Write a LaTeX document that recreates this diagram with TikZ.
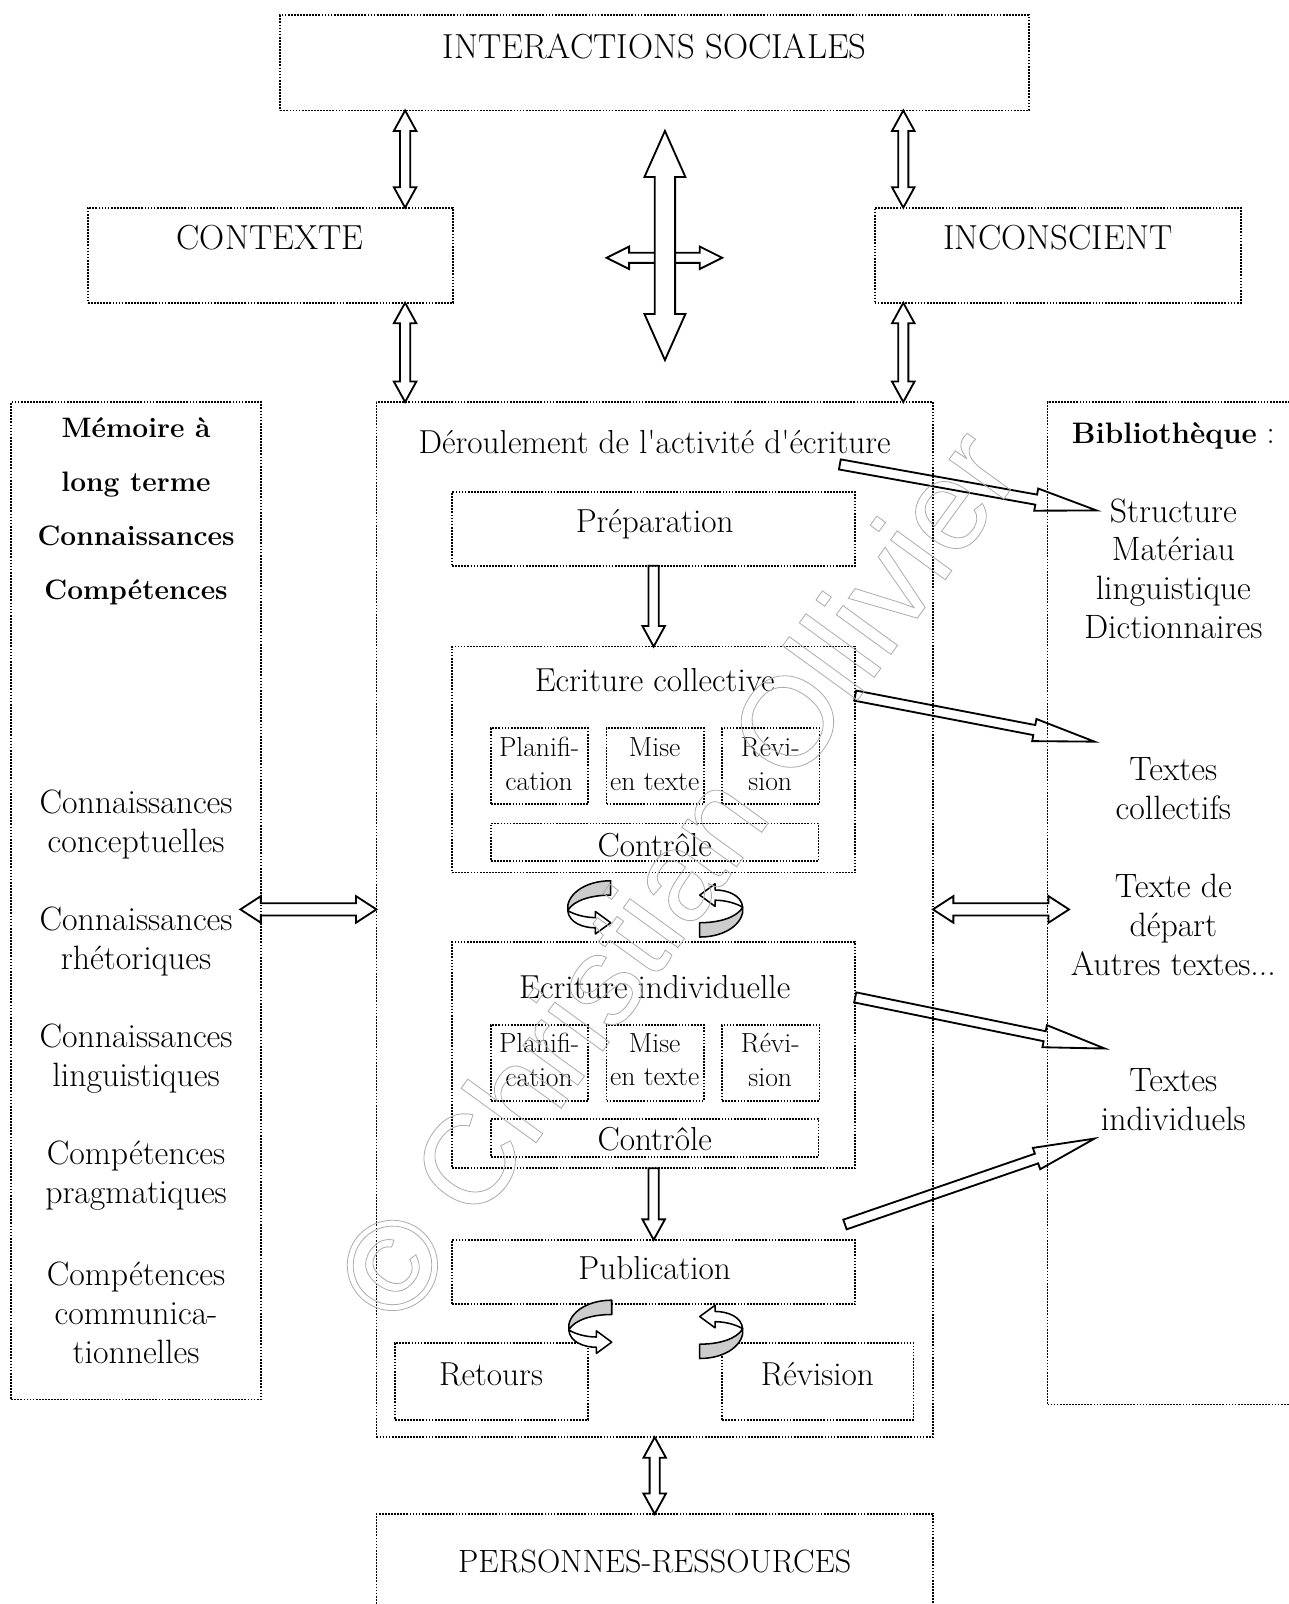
\documentclass[tikz,border=0pt]{standalone}
\usepackage{fontspec}
\newfontfamily\wmfont{Liberation Sans}
\usetikzlibrary{calc,fit}

\newcommand{\blkarrow}[6][]{%
    \path ($(#3)!#6!(#2)$) coordinate (hb);
    \draw[arrowline,#1] ($(#2)!#4!90:(#3)$) -- ($(hb)!#4!-90:(#2)$) -- ($(hb)!#5!-90:(#2)$) -- (#3) -- ($(hb)!#5!90:(#2)$) -- ($(hb)!#4!90:(#2)$) -- ($(#2)!#4!-90:(#3)$) -- cycle;
}
\newcommand{\blkdarrow}[6][]{%
    \path ($(#2)!#6!(#3)$) coordinate (ha);
    \path ($(#3)!#6!(#2)$) coordinate (hb);
    \draw[arrowline,#1] (#2) -- ($(ha)!#5!90:(#3)$) -- ($(ha)!#4!90:(#3)$) -- ($(hb)!#4!-90:(#2)$) -- ($(hb)!#5!-90:(#2)$) -- (#3) -- ($(hb)!#5!90:(#2)$) -- ($(hb)!#4!90:(#2)$) -- ($(ha)!#4!-90:(#3)$) -- ($(ha)!#5!-90:(#3)$) -- cycle;
}

\tikzset{
    boxline/.style={draw, line width=1.7pt, dash pattern=on 1.7pt off 1.3pt, inner sep=0pt, outer sep=0pt},
    titletext/.style={font=\fontsize{34}{40}\selectfont, inner sep=0pt},
    bodytext/.style={font=\fontsize{32.5}{38}\selectfont, align=center, inner sep=0pt},
    subtext/.style={font=\fontsize{27}{33}\selectfont, align=center, inner sep=0pt},
    boldtext/.style={font=\fontsize{27.5}{53}\selectfont\bfseries, align=center, inner sep=0pt},
    listtext/.style={font=\fontsize{33}{38}\selectfont, align=center, inner sep=0pt},
    arrowline/.style={line width=1.8pt, line join=miter},
    twist/.pic={
        \filldraw[fill=gray!40, line width=1.5pt, line join=round] (21,-27) -- (21,-13) .. controls (2,-13) and (-15,-8) .. (-21,2) .. controls (-23,-12) and (-6,-27) .. (21,-27) -- cycle;
        \filldraw[fill=white, line width=1.5pt, line join=round] (-21,2) .. controls (-20,14) and (-6,19) .. (6,19) -- (6,25) -- (21,14) -- (6,3) -- (6,9) .. controls (-4,9) and (-15,6) .. (-21,2) -- cycle;
    }
}

\begin{document}
\begin{tikzpicture}[x=1pt, y=-1pt]
            \useasboundingbox (0,0) rectangle (1260,1568);

            \node[boxline, fit={(274,15) (1006,108)}] (is) {};
            \node[boxline, fit={(86,203) (443,296)}] (ctx) {};
            \node[boxline, fit={(855,203) (1213,296)}] (inc) {};
            \node[boxline, fit={(11,393) (255,1368)}] (mem) {};
            \node[boxline, fit={(368,393) (912,1405)}] (act) {};
            \node[boxline, fit={(1024,393) (1266,1373)}] (bib) {};
            \node[boxline, fit={(442,481) (836,553)}] (prep) {};
            \node[boxline, fit={(442,632) (836,853)}] (ecol) {};
            \node[boxline, fit={(480,712) (575,786)}] (planc) {};
            \node[boxline, fit={(593,712) (688,786)}] (misec) {};
            \node[boxline, fit={(706,712) (801,786)}] (revc) {};
            \node[boxline, fit={(480,805) (800,842)}] (ctlc) {};
            \node[boxline, fit={(442,921) (836,1142)}] (eind) {};
            \node[boxline, fit={(480,1002) (575,1076)}] (plani) {};
            \node[boxline, fit={(593,1002) (688,1076)}] (misei) {};
            \node[boxline, fit={(706,1002) (801,1076)}] (revi) {};
            \node[boxline, fit={(480,1094) (800,1131)}] (ctli) {};
            \node[boxline, fit={(442,1212) (836,1275)}] (pub) {};
            \node[boxline, fit={(386,1313) (575,1388)}] (ret) {};
            \node[boxline, fit={(706,1313) (893,1388)}] (rev) {};
            \node[boxline, fit={(368,1480) (912,1575)}] (pers) {};

            \node[titletext, anchor=base] (istext) at (640,57) {INTERACTIONS SOCIALES};
            \node[titletext, anchor=base] (ctxtext) at (264,244) {CONTEXTE};
            \node[titletext, anchor=base] (inctext) at (1034,244) {INCONSCIENT};
            \node[titletext, anchor=base, font=\fontsize{31.5}{38}\selectfont] (perstext) at (640,1537) {PERSONNES-RESSOURCES};

            \node[bodytext, anchor=base] (actext) at (640,443) {Déroulement de l\textquotesingle activité d\textquotesingle écriture};
            \node[bodytext, anchor=base] (preptext) at (640,521) {Préparation};
            \node[bodytext, anchor=base] (ecoltext) at (640,676) {Ecriture collective};
            \node[subtext] (planctext) at (527,747) {Planifi-\\cation};
            \node[subtext] (misectext) at (640,747) {Mise\\en texte};
            \node[subtext] (revctext) at (753,747) {Révi-\\sion};
            \node[bodytext, anchor=base] (ctlctext) at (640,837) {Contrôle};
            \node[bodytext, anchor=base] (eindtext) at (640,976) {Ecriture individuelle};
            \node[subtext] (planitext) at (527,1036) {Planifi-\\cation};
            \node[subtext] (miseitext) at (640,1036) {Mise\\en texte};
            \node[subtext] (revitext) at (753,1036) {Révi-\\sion};
            \node[bodytext, anchor=base] (ctlitext) at (640,1125) {Contrôle};
            \node[bodytext, anchor=base] (pubtext) at (640,1251) {Publication};
            \node[bodytext, anchor=base] (rettext) at (480,1354) {Retours};
            \node[bodytext, anchor=base] (revtext) at (799,1354) {Révision};

            \node[boldtext] (memtext) at (133,500) {Mémoire à\\long terme\\Connaissances\\Compétences};
            \node[listtext] (conc) at (133,806) {Connaissances\\conceptuelles};
            \node[listtext] (rhet) at (133,920) {Connaissances\\rhétoriques};
            \node[listtext] (ling) at (133,1035) {Connaissances\\linguistiques};
            \node[listtext] (prag) at (133,1149) {Compétences\\pragmatiques};
            \node[listtext] (comm) at (133,1283) {Compétences\\communica-\\tionnelles};

            \node[bodytext, anchor=base, font=\fontsize{32}{38}\selectfont] (bibtext) at (1147,434) {{\fontsize{29}{38}\selectfont\bfseries Bibliothèque} :};
            \node[listtext] (struct) at (1147,556) {Structure\\Matériau\\linguistique\\Dictionnaires};
            \node[listtext] (tcol) at (1147,771) {Textes\\collectifs};
            \node[listtext] (tdep) at (1147,904) {Texte de\\départ\\Autres textes...};
            \node[listtext] (tind) at (1147,1075) {Textes\\individuels};

            \path (396,0) coordinate (xl);
            \path (883,0) coordinate (xr);
            \path (is.south -| xl) coordinate (l1);
            \path (ctx.north -| xl) coordinate (l2);
            \path (ctx.south -| xl) coordinate (l3);
            \path (act.north -| xl) coordinate (l4);
            \path (is.south -| xr) coordinate (r1);
            \path (inc.north -| xr) coordinate (r2);
            \path (inc.south -| xr) coordinate (r3);
            \path (act.north -| xr) coordinate (r4);

            \path (650,128) coordinate (v1);
            \path (650,352) coordinate (v2);
            \path (593,252) coordinate (h1);
            \path (706,252) coordinate (h2);

            \path (235,889) coordinate (m1);
            \path (act.west |- m1) coordinate (m2);
            \path (act.east |- m1) coordinate (b1);
            \path (1045,889) coordinate (b2);

            \path (821,454) coordinate (s1);
            \path (1072,499) coordinate (s2);
            \path (836,680) coordinate (s3);
            \path (1070,725) coordinate (s4);
            \path (836,975) coordinate (s5);
            \path (1080,1025) coordinate (s6);
            \path (826,1197) coordinate (s7);
            \path (1070,1113) coordinate (s8);

            \blkdarrow{l1}{l2}{5pt}{11pt}{20pt}
            \blkdarrow{l3}{l4}{5pt}{11pt}{20pt}
            \blkdarrow{r1}{r2}{5pt}{11pt}{20pt}
            \blkdarrow{r3}{r4}{5pt}{11pt}{20pt}

            \blkdarrow{h1}{h2}{5pt}{11pt}{22pt}
            \blkdarrow[fill=white]{v1}{v2}{10pt}{20pt}{45pt}

            \blkarrow{prep.south}{ecol.north}{5pt}{11pt}{20pt}
            \blkarrow{eind.south}{pub.north}{5pt}{11pt}{20pt}
            \blkdarrow{act.south}{pers.north}{5pt}{11pt}{20pt}

            \blkdarrow{m1}{m2}{6pt}{13pt}{20pt}
            \blkdarrow{b1}{b2}{6pt}{13pt}{20pt}

            \blkarrow{s1}{s2}{5pt}{11pt}{60pt}
            \blkarrow{s3}{s4}{5pt}{11pt}{60pt}
            \blkarrow{s5}{s6}{5pt}{11pt}{60pt}
            \blkarrow{s7}{s8}{5pt}{11pt}{60pt}

            \pic at (576,888) {twist};
            \pic[rotate=180] at (705,889) {twist};
            \pic at (577,1298) {twist};
            \pic[rotate=180] at (705,1301) {twist};

            \node[rotate=54, text=gray!65, inner sep=0pt, font=\wmfont\fontsize{125}{130}\selectfont] (wmark) at (660,854) {\special{pdf:literal direct 1 Tr 0.8 w}© Christian Ollivier\special{pdf:literal direct 0 Tr}};
\end{tikzpicture}
\end{document}
